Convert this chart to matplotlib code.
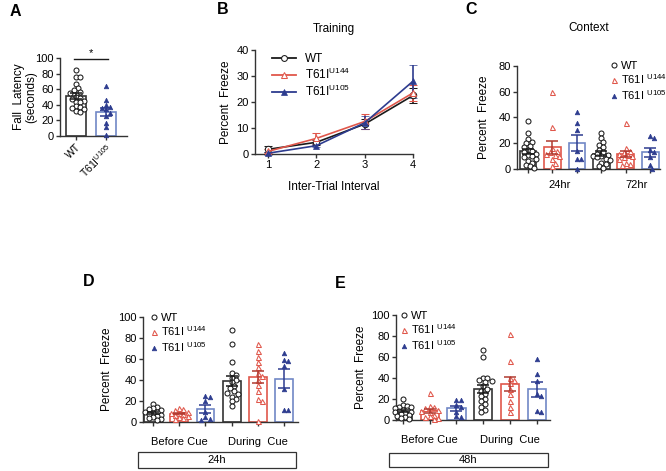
import numpy as np
import matplotlib
matplotlib.use("Agg")
import matplotlib.pyplot as plt
from matplotlib.lines import Line2D
from matplotlib.patches import Rectangle

plt.rcParams['font.family'] = ['Liberation Sans', 'DejaVu Sans']
plt.rcParams['mathtext.fontset'] = 'custom'
plt.rcParams['mathtext.rm'] = 'Liberation Sans'

# ---- data ----
# A: fall latency (seconds)
a_groups = ['WT', 'T61I$^{\\mathregular{U105}}$']
a_wt = [85, 76, 75, 67, 62, 59, 57, 55, 50, 49, 47, 45, 44, 43, 38, 37, 36, 35, 32, 31]
a_u105 = [64, 46, 40, 37, 36, 34, 30, 26, 17, 11, 1]

# B: training, percent freeze per inter-trial interval
b_iti = [1, 2, 3, 4]
b_wt = [1.8, 4.5, 11.5, 22.5]
b_wt_err = [1.2, 1.0, 2.0, 3.0]
b_u144 = [1.0, 6.0, 12.5, 23.5]
b_u144_err = [0.8, 2.0, 3.0, 3.0]
b_u105 = [0.3, 3.2, 12.0, 28.0]
b_u105_err = [0.5, 0.7, 2.5, 6.3]

# C: context, 24hr / 72hr
c_wt_24 = [37, 28, 23, 21, 20, 18, 17, 15, 14, 13, 12, 11, 10, 9, 8, 6, 5, 3, 2, 1]
c_u144_24 = [60, 33, 16, 14, 13, 12, 11, 10, 8, 5, 2]
c_u105_24 = [44, 36, 30, 14, 8, 8, 0]
c_wt_72 = [28, 24, 21, 19, 17, 15, 13, 12, 11, 10, 10, 9, 8, 7, 5, 4, 2, 1]
c_u144_72 = [36, 16, 14, 13, 12, 11, 10, 9, 8, 5, 4, 3]
c_u105_72 = [26, 24, 15, 13, 9, 3, 0]

# D: cue test 24h (before / during cue)
d_wt_b = [17, 14, 13, 12, 11, 10, 10, 9, 8, 7, 6, 5, 4, 3, 2]
d_u144_b = [13, 12, 11, 10, 9, 9, 8, 7, 6, 5, 4, 3]
d_u105_b = [25, 24, 20, 10, 5, 3, 2]
d_wt_d = [88, 74, 57, 47, 45, 42, 40, 38, 34, 32, 30, 28, 27, 24, 22, 20, 15]
d_u144_d = [74, 68, 62, 57, 52, 47, 44, 40, 35, 30, 22, 20, 1]
d_u105_d = [66, 59, 58, 53, 31, 11, 11]

# E: cue test 48h
e_wt_b = [20, 14, 13, 12, 12, 11, 10, 10, 9, 8, 8, 7, 6, 5, 4, 3, 2, 1]
e_u144_b = [26, 13, 12, 11, 10, 9, 8, 5, 4, 3, 2, 1]
e_u105_b = [19, 19, 14, 12, 8, 4, 3]
e_wt_d = [67, 60, 40, 40, 38, 37, 36, 32, 30, 28, 25, 23, 20, 18, 15, 12, 10, 8]
e_u144_d = [82, 56, 40, 38, 35, 30, 25, 18, 12, 8]
e_u105_d = [58, 44, 37, 25, 23, 9, 8]

kinds6 = ['wt', 'u144', 'u105', 'wt', 'u144', 'u105']

# ---- styles ----
BLACK = '#1a1a1a'
RED = '#e0574b'
RED_ERR = '#b03a30'
BLUE = '#2d3c8f'
BLUE_EDGE = '#7188c6'

mk = {
    'wt': dict(marker='o', mfc='white', mec=BLACK, ms=3.6, mew=0.75),
    'u144': dict(marker='^', mfc='white', mec=RED, ms=3.6, mew=0.75),
    'u105': dict(marker='^', mfc=BLUE, mec=BLUE, ms=3.3, mew=0.5),
}
bar_edge = {'wt': '#333333', 'u144': RED, 'u105': BLUE_EDGE}
err_col = {'wt': BLACK, 'u144': RED_ERR, 'u105': BLUE}

W, H = 666, 471
fig = plt.figure(figsize=(W / 100, H / 100), dpi=100)


def box(l, t, r, b):
    return fig.add_axes([l / W, 1 - b / H, (r - l) / W, (b - t) / H])


def style(ax):
    for s in ['top', 'right']:
        ax.spines[s].set_visible(False)
    for s in ['left', 'bottom']:
        ax.spines[s].set_linewidth(1.0)
        ax.spines[s].set_color('#333333')
    ax.tick_params(direction='out', length=3, width=1.0, labelsize=8, pad=1.5, color='#333333')


def swarm(ax, vals, dot=4.2, maxw=9):
    pos = ax.get_position()
    x0, x1 = ax.get_xlim()
    y0, y1 = ax.get_ylim()
    sx = pos.width * W / (x1 - x0)
    sy = pos.height * H / (y1 - y0)
    cands = [0.0]
    k = 1
    while k * dot * 0.5 <= maxw:
        cands += [k * dot * 0.5, -k * dot * 0.5]
        k += 1
    placed = []
    offs = np.zeros(len(vals))
    for i in np.argsort(vals)[::-1]:
        y = vals[i] * sy
        best, bestd = 0.0, -1
        for c in cands:
            d = min([np.hypot(c - px, y - py) for px, py in placed] + [99])
            if d >= dot:
                best = c
                break
            if d > bestd:
                best, bestd = c, d
        placed.append((best, y))
        offs[i] = best / sx
    return offs


def bars(ax, groups, kinds, width=0.68):
    for i, (vals, kd) in enumerate(zip(groups, kinds)):
        vals = np.array(vals, dtype=float)
        m = vals.mean()
        se = vals.std(ddof=1) / np.sqrt(len(vals))
        ax.bar(i, m, width=width, facecolor='white', edgecolor=bar_edge[kd], lw=1.2, zorder=1)
        ax.plot(i + swarm(ax, vals), vals, ls='none', clip_on=False, zorder=3, **mk[kd])
        ax.errorbar(i, m, yerr=se, color=err_col[kd], capsize=4, lw=1.1, capthick=1.1, zorder=4)


def legend(ax, labels, anchor, fs=8):
    hs = [Line2D([], [], ls='none', **mk[k]) for k in ['wt', 'u144', 'u105']]
    ax.legend(hs, labels, loc='upper left', bbox_to_anchor=anchor, frameon=False,
              fontsize=fs, handlelength=0.6, handletextpad=0.35, labelspacing=0.15,
              borderpad=0, borderaxespad=0)


leg_lab = ['WT', 'T61I $^{\\mathregular{U144}}$', 'T61I $^{\\mathregular{U105}}$']

# ---- A ----
axA = box(60, 58, 127, 136)
style(axA)
axA.set_xlim(-0.53, 1.7)
axA.set_ylim(0, 100)
bars(axA, [a_wt, a_u105], ['wt', 'u105'], width=0.68)
axA.set_yticks(range(0, 101, 20))
axA.set_xticks([0, 1])
axA.set_xticklabels(a_groups, rotation=45, ha='right', rotation_mode='anchor', fontsize=7.5)
axA.set_ylabel('Fall  Latency\n(seconds)', fontsize=8.5, va='center', linespacing=1.1)
axA.yaxis.set_label_coords((25 - 60) / 67, 0.5)
axA.plot([-0.07, 1.07], [99, 99], color=BLACK, lw=1.0, clip_on=False)
axA.text(0.5, 100, '*', ha='center', va='bottom', fontsize=8)

# ---- B ----
axB = box(255, 50, 413, 154)
style(axB)
axB.set_xlim(0.73, 4)
axB.set_ylim(0, 40)
for y, e, kd, col in [(b_wt, b_wt_err, 'wt', BLACK), (b_u144, b_u144_err, 'u144', RED),
                      (b_u105, b_u105_err, 'u105', BLUE)]:
    st = dict(mk[kd])
    st['ms'] = st['ms'] + 1.0
    axB.errorbar(b_iti, y, yerr=e, color=col, lw=1.2, capsize=3, capthick=1.0,
                 clip_on=False, zorder=3, **st)
axB.set_xticks(b_iti)
axB.set_yticks(range(0, 41, 10))
axB.set_xlabel('Inter-Trial Interval', fontsize=8.5, labelpad=8)
axB.set_ylabel('Percent  Freeze', fontsize=8.5, va='center')
axB.yaxis.set_label_coords((226 - 255) / 158, 0.5)
axB.text(0.5, 1.2, 'Training', transform=axB.transAxes, ha='center', va='center', fontsize=8.5)
hb = []
for kd, col in [('wt', BLACK), ('u144', RED), ('u105', BLUE)]:
    st = dict(mk[kd])
    st['ms'] = st['ms'] + 0.6
    hb.append(Line2D([], [], color=col, lw=1.3, **st))
axB.legend(hb, ['WT', 'T61I$^{\\mathregular{U144}}$', 'T61I$^{\\mathregular{U105}}$'],
           loc='upper left', bbox_to_anchor=(0.07, 1.03), frameon=False, fontsize=8.5,
           handlelength=2.0, handletextpad=0.8, labelspacing=0.15, borderpad=0)

# ---- C ----
axC = box(517, 66, 660, 169)
style(axC)
axC.set_xlim(-0.45, 5.4)
axC.set_ylim(0, 80)
bars(axC, [c_wt_24, c_u144_24, c_u105_24, c_wt_72, c_u144_72, c_u105_72], kinds6)
axC.set_xticks(range(6))
axC.set_xticklabels([])
axC.set_yticks(range(0, 81, 20))
axC.set_ylabel('Percent  Freeze', fontsize=8.5, va='center')
axC.yaxis.set_label_coords((484 - 517) / 143, 0.5)
tr = axC.get_xaxis_transform()
axC.text(1.3, -0.16, '24hr', transform=tr, ha='center', va='center', fontsize=8)
axC.text(4.45, -0.16, '72hr', transform=tr, ha='center', va='center', fontsize=8)
axC.text(0.5, 1.37, 'Context', transform=axC.transAxes, ha='center', va='center', fontsize=8.5)
legend(axC, leg_lab, (0.655, 1.05), fs=8)

# ---- D and E ----
for l, t, r, b, data, lab, bx, x0, x1, ylx, lg in [
        (143, 317, 298, 422, [d_wt_b, d_u144_b, d_u105_b, d_wt_d, d_u144_d, d_u105_d],
         '24h', (138, 452, 296, 468), -0.38, 5.53, 107, (0.05, 1.04)),
        (396, 315, 550, 420, [e_wt_b, e_u144_b, e_u105_b, e_wt_d, e_u144_d, e_u105_d],
         '48h', (389, 453, 548, 467), -0.26, 5.5, 361, (0.03, 1.04))]:
    ax = box(l, t, r, b)
    style(ax)
    ax.set_xlim(x0, x1)
    ax.set_ylim(0, 100)
    bars(ax, data, kinds6)
    ax.set_xticks(range(6))
    ax.set_xticklabels([])
    ax.set_yticks(range(0, 101, 20))
    ax.set_ylabel('Percent  Freeze', fontsize=8.5, va='center')
    ax.yaxis.set_label_coords((ylx - l) / (r - l), 0.5)
    tr = ax.get_xaxis_transform()
    ax.text(1, -0.19, 'Before Cue', transform=tr, ha='center', va='center', fontsize=8)
    ax.text(4, -0.19, 'During  Cue', transform=tr, ha='center', va='center', fontsize=8)
    legend(ax, leg_lab, lg, fs=8)
    bl, bt, br, bb = bx
    fig.patches.append(Rectangle((bl / W, 1 - bb / H), (br - bl) / W, (bb - bt) / H,
                                 transform=fig.transFigure, fill=False, lw=0.9, ec='#333333'))
    fig.text((bl + br) / 2 / W, 1 - (bt + bb) / 2 / H, lab, ha='center', va='center', fontsize=8)

# ---- panel letters ----
for s, x, y in [('A', 10, 11), ('B', 217, 9), ('C', 465, 9), ('D', 83, 282), ('E', 335, 283)]:
    fig.text(x / W, 1 - y / H, s, fontsize=11.5, fontweight='bold', ha='left', va='center')

fig.savefig('out.png', dpi=100)
